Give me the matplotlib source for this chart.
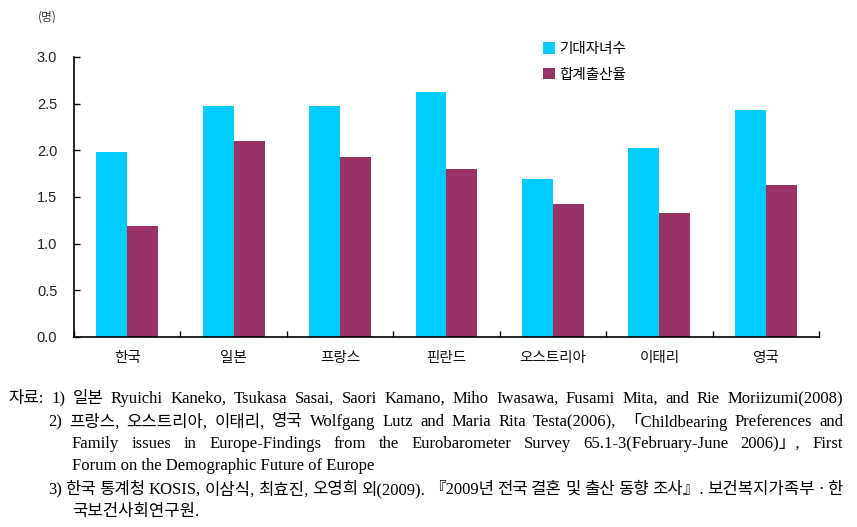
import matplotlib
matplotlib.use("Agg")
import matplotlib.pyplot as plt
import numpy as np

# data
countries = ['한국', '일본', '프랑스', '핀란드', '오스트리아', '이태리', '영국']
expected_children = [1.98, 2.48, 2.48, 2.62, 1.69, 2.03, 2.43]
fertility_rate = [1.19, 2.10, 1.93, 1.80, 1.43, 1.33, 1.63]
series_names = ['기대자녀수', '합계출산율']
yticks = [0.0, 0.5, 1.0, 1.5, 2.0, 2.5, 3.0]
unit_label = '(명)'

notes = [
    ('자료: 1) 일본 Ryuichi Kaneko, Tsukasa Sasai, Saori Kamano, Miho Iwasawa, Fusami Mita, and Rie Moriizumi(2008)', 8, True),
    ('2) 프랑스, 오스트리아, 이태리, 영국 Wolfgang Lutz and Maria Rita Testa(2006), 「Childbearing Preferences and', 48, True),
    ('Family issues in Europe-Findings from the Eurobarometer Survey 65.1-3(February-June 2006)」, First', 72, True),
    ('Forum on the Demographic Future of Europe', 72, False),
    ('3) 한국 통계청 KOSIS, 이삼식, 최효진, 오영희 외(2009). 『2009년 전국 결혼 및 출산 동향 조사』. 보건복지가족부 · 한', 48, True),
    ('국보건사회연구원.', 72, False),
]
note_y = [399, 422, 444, 466, 490, 512]

W, H = 857, 527
fig = plt.figure(figsize=(W / 100, H / 100), dpi=100)
ax = fig.add_axes([74 / W, 1 - 337 / H, (819 - 74) / W, (337 - 57) / H])

cyan = '#00CCFF'
maroon = '#993366'
x = np.arange(len(countries))
bw = 0.29
ax.bar(x - bw / 2, expected_children, bw, color=cyan, label=series_names[0])
ax.bar(x + bw / 2, fertility_rate, bw, color=maroon, label=series_names[1])

ax.set_xlim(-0.5, len(countries) - 0.5)
ax.set_ylim(0, 3.0)
ax.set_yticks(yticks)
ax.set_yticklabels([f'{v:.1f}' for v in yticks], fontfamily='Liberation Sans', fontsize=10.5, color='#222222')
ax.tick_params(axis='y', direction='in', length=4, width=1, pad=12)

# category boundary ticks on the x axis, labels in the middle
ax.set_xticks(np.arange(len(countries) + 1) - 0.5)
ax.set_xticklabels([])
ax.tick_params(axis='x', direction='in', length=4, width=1)
for i, c in enumerate(countries):
    ax.text(i, -0.22, c, ha='center', va='center', fontsize=10.5,
            fontfamily=['Noto Sans CJK KR', 'DejaVu Sans'], color='#111111')

for s in ['top', 'right']:
    ax.spines[s].set_visible(False)
ax.spines['left'].set_linewidth(1.2)
ax.spines['bottom'].set_linewidth(1.2)

leg = ax.legend(loc='upper left', bbox_to_anchor=(0.612, 1.10), frameon=False,
                prop={'family': ['Noto Sans CJK KR', 'DejaVu Sans'], 'size': 10.5},
                handlelength=0.8, handleheight=0.8, handletextpad=0.3, labelspacing=0.8)

fig.text(38 / W, 1 - 17 / H, unit_label, fontsize=8.5, va='center',
         fontfamily=['Noto Sans CJK KR', 'DejaVu Sans'], color='#333333')

# footnotes, justified to the right edge where the original is
note_font = ['Liberation Serif', 'Noto Sans CJK KR']
right_edge = 843
renderer = fig.canvas.get_renderer()
for (line, x0, justify), yy in zip(notes, note_y):
    yf = 1 - yy / H
    if not justify:
        fig.text(x0 / W, yf, line, fontsize=12, va='center', fontfamily=note_font)
        continue
    words = line.split(' ')
    arts = [fig.text(0, yf, w, fontsize=12, va='center', fontfamily=note_font) for w in words]
    widths = [a.get_window_extent(renderer).width for a in arts]
    gap = (right_edge - x0 - sum(widths)) / (len(words) - 1)
    pos = x0
    for a, w in zip(arts, widths):
        a.set_x(pos / W)
        pos += w + gap

fig.savefig('out.png', dpi=100)
